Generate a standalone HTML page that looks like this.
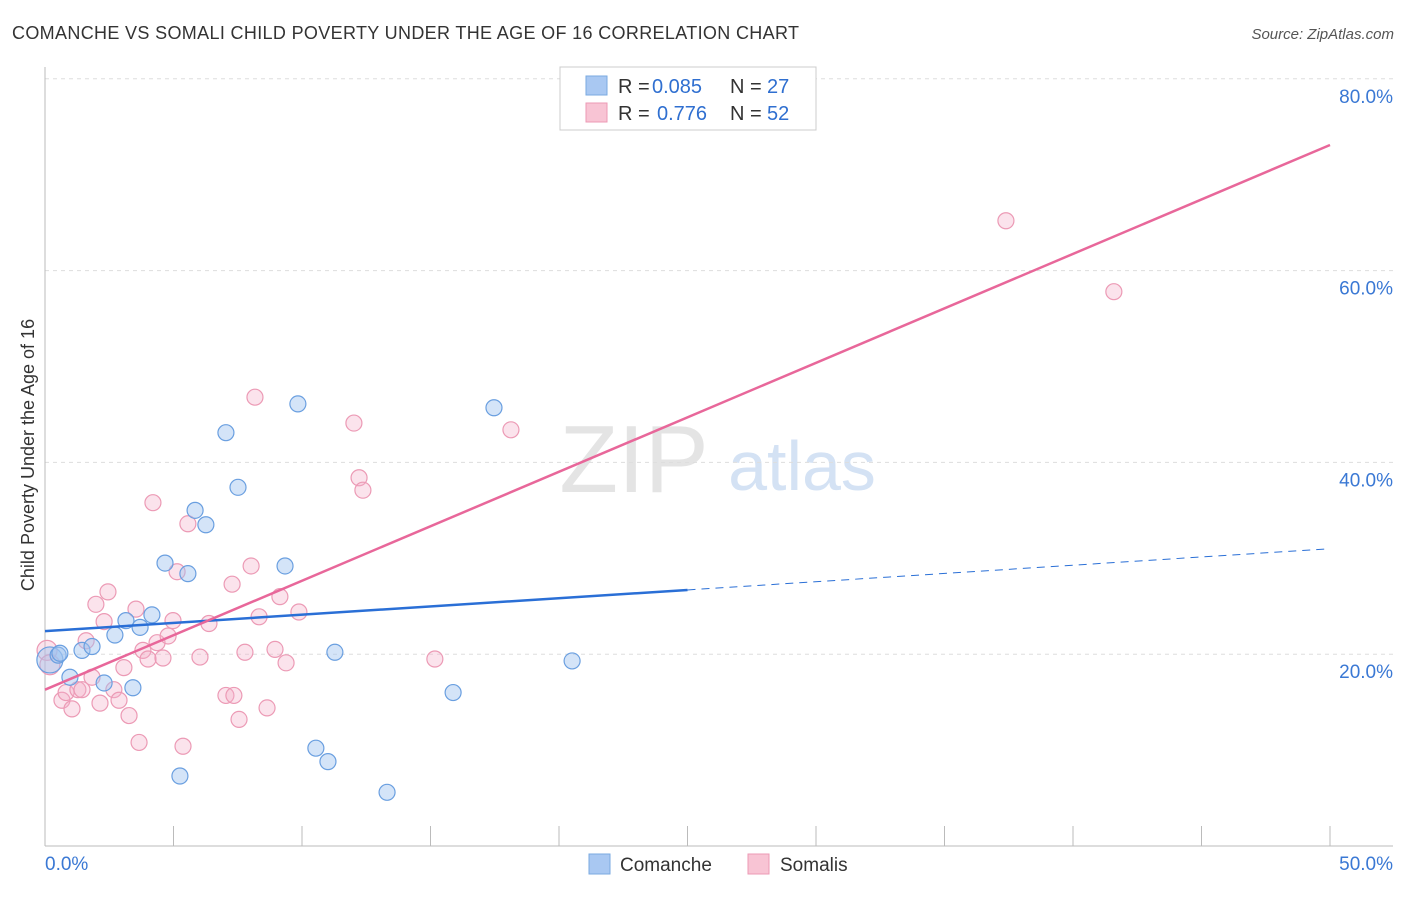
<!DOCTYPE html>
<html><head><meta charset="utf-8"><style>
body{margin:0;background:#fff;font-family:"Liberation Sans",sans-serif;}
svg text{font-family:"Liberation Sans",sans-serif;}
</style></head><body>
<svg id="chart" width="1406" height="892" xmlns="http://www.w3.org/2000/svg">
<text x="12" y="39" font-size="18" fill="#333" textLength="787">COMANCHE VS SOMALI CHILD POVERTY UNDER THE AGE OF 16 CORRELATION CHART</text>
<text x="1394" y="39" font-size="15" fill="#555" text-anchor="end" font-style="italic">Source: ZipAtlas.com</text>
<text x="634" y="492" font-size="96" fill="#e4e4e4" font-family="Liberation Serif" text-anchor="middle">ZIP</text>
<text x="802" y="490" font-size="70" fill="#d4e2f4" text-anchor="middle">atlas</text>
<text transform="translate(34,455) rotate(-90)" font-size="18" fill="#333" text-anchor="middle">Child Poverty Under the Age of 16</text>
<g id="grid"></g><g id="marks"></g>
<g>
<rect x="560" y="67" width="256" height="63" fill="#fff" stroke="#ccc"/>
<rect x="586" y="76" width="21" height="19" fill="#a9c8f2" stroke="#7aaae0"/>
<rect x="586" y="103" width="21" height="19" fill="#f8c4d4" stroke="#ec9ab5"/>
<text x="618" y="93" font-size="20" fill="#333">R =</text>
<text x="652" y="93" font-size="20" fill="#2f6fd0">0.085</text>
<text x="730" y="93" font-size="20" fill="#333">N =</text>
<text x="767" y="93" font-size="20" fill="#2f6fd0">27</text>
<text x="618" y="120" font-size="20" fill="#333">R =</text>
<text x="657" y="120" font-size="20" fill="#2f6fd0">0.776</text>
<text x="730" y="120" font-size="20" fill="#333">N =</text>
<text x="767" y="120" font-size="20" fill="#2f6fd0">52</text>
</g>
<g>
<rect x="589" y="854" width="21" height="20" fill="#a9c8f2" stroke="#7aaae0"/>
<text x="620" y="871" font-size="19" fill="#333">Comanche</text>
<rect x="748" y="854" width="21" height="20" fill="#f8c4d4" stroke="#ec9ab5"/>
<text x="780" y="871" font-size="19" fill="#333">Somalis</text>
</g>
</svg>
<script>
const yTicks=[20,40,60,80];
const xTickLabels=["0.0%","50.0%"];
const blueX=[0.19,0.51,0.58,0.97,1.44,1.83,2.30,2.72,3.15,3.42,3.70,4.16,4.67,5.25,5.56,5.84,6.26,7.04,7.51,9.34,9.84,10.54,11.01,11.28,13.31,15.88,17.47,20.51];
const blueY=[19.4,19.9,20.1,17.6,20.4,20.8,17.0,22.0,23.5,16.5,22.8,24.1,29.5,7.3,28.4,35.0,33.5,43.1,37.4,29.2,46.1,10.2,8.8,20.2,5.6,16.0,45.7,19.3];
const pinkX=[0.08,0.19,0.66,0.82,1.05,1.28,1.44,1.60,1.83,1.98,2.14,2.30,2.45,2.68,2.88,3.07,3.27,3.54,3.66,3.81,4.01,4.20,4.36,4.59,4.79,4.98,5.14,5.37,5.56,6.03,6.38,7.04,7.28,7.35,7.55,7.78,8.02,8.17,8.33,8.64,8.95,9.14,9.38,9.88,12.02,12.22,12.37,15.17,18.13,37.39,41.59];
const pinkY=[20.4,18.9,15.2,16.0,14.3,16.3,16.3,21.4,17.6,25.2,14.9,23.4,26.5,16.3,15.2,18.6,13.6,24.7,10.8,20.4,19.5,35.8,21.2,19.6,21.9,23.5,28.6,10.4,33.6,19.7,23.2,15.7,27.3,15.7,13.2,20.2,29.2,46.8,23.9,14.4,20.5,26.0,19.1,24.4,44.1,38.4,37.1,19.5,43.4,65.2,57.8];
const blueLine=[22.4,31.0], blueSolidEnd=25;
const pinkLine=[16.3,73.1];
const X=v=>45+v/50*1285, Y=v=>846-v*9.59;
const NS="http://www.w3.org/2000/svg";
function mk(t,a,p){const e=document.createElementNS(NS,t);for(const k in a)e.setAttribute(k,a[k]);p.appendChild(e);return e;}
const g=document.getElementById('grid'), m=document.getElementById('marks');
yTicks.forEach(t=>{
 const l=mk('line',{x1:45,x2:1393,y1:Y(t),y2:Y(t),stroke:'#ddd','stroke-dasharray':'4,4'},g);
 
 
 const tx=mk('text',{x:1393,y:Y(t)+24,'font-size':19,fill:'#3a78d4','text-anchor':'end'},g);tx.textContent=t.toFixed(1)+'%';
 
 
});
mk('line',{x1:45,x2:45,y1:67,y2:846,stroke:'#bbb'},g);
mk('line',{x1:45,x2:1393,y1:846,y2:846,stroke:'#bbb'},g);
for(let i=0;i<=10;i++){mk('line',{x1:X(i*5),x2:X(i*5),y1:826,y2:846,stroke:'#bbb'},g);}
const xl=mk('text',{x:45,y:870,'font-size':19,fill:'#3a78d4'},g);xl.textContent=xTickLabels[0];


const xr=mk('text',{x:1393,y:870,'font-size':19,fill:'#3a78d4','text-anchor':'end'},g);xr.textContent=xTickLabels[1];


pinkX.forEach((x,i)=>{const c=mk('circle',{cx:X(x),cy:Y(pinkY[i]),r:i<2?10:8,fill:'rgba(244,176,200,0.35)',stroke:'#ec9ab5','stroke-width':1.2},m);
 
 });
blueX.forEach((x,i)=>{const c=mk('circle',{cx:X(x),cy:Y(blueY[i]),r:i==0?13:8,fill:'rgba(160,196,240,0.45)',stroke:'#6a9fe0','stroke-width':1.2},m);
 
 });
const bAt=x=>blueLine[0]+(blueLine[1]-blueLine[0])*x/50;
const b1=mk('line',{x1:X(0),y1:Y(blueLine[0]),x2:X(blueSolidEnd),y2:Y(bAt(blueSolidEnd)),stroke:'#2a6fd6','stroke-width':2.5},m);


const b2=mk('line',{x1:X(blueSolidEnd),y1:Y(bAt(blueSolidEnd)),x2:X(50),y2:Y(blueLine[1]),stroke:'#2a6fd6','stroke-width':1,'stroke-dasharray':'8,6'},m);


const p=mk('line',{x1:X(0),y1:Y(pinkLine[0]),x2:X(50),y2:Y(pinkLine[1]),stroke:'#e8679a','stroke-width':2.5},m);


</script>
</body></html>
